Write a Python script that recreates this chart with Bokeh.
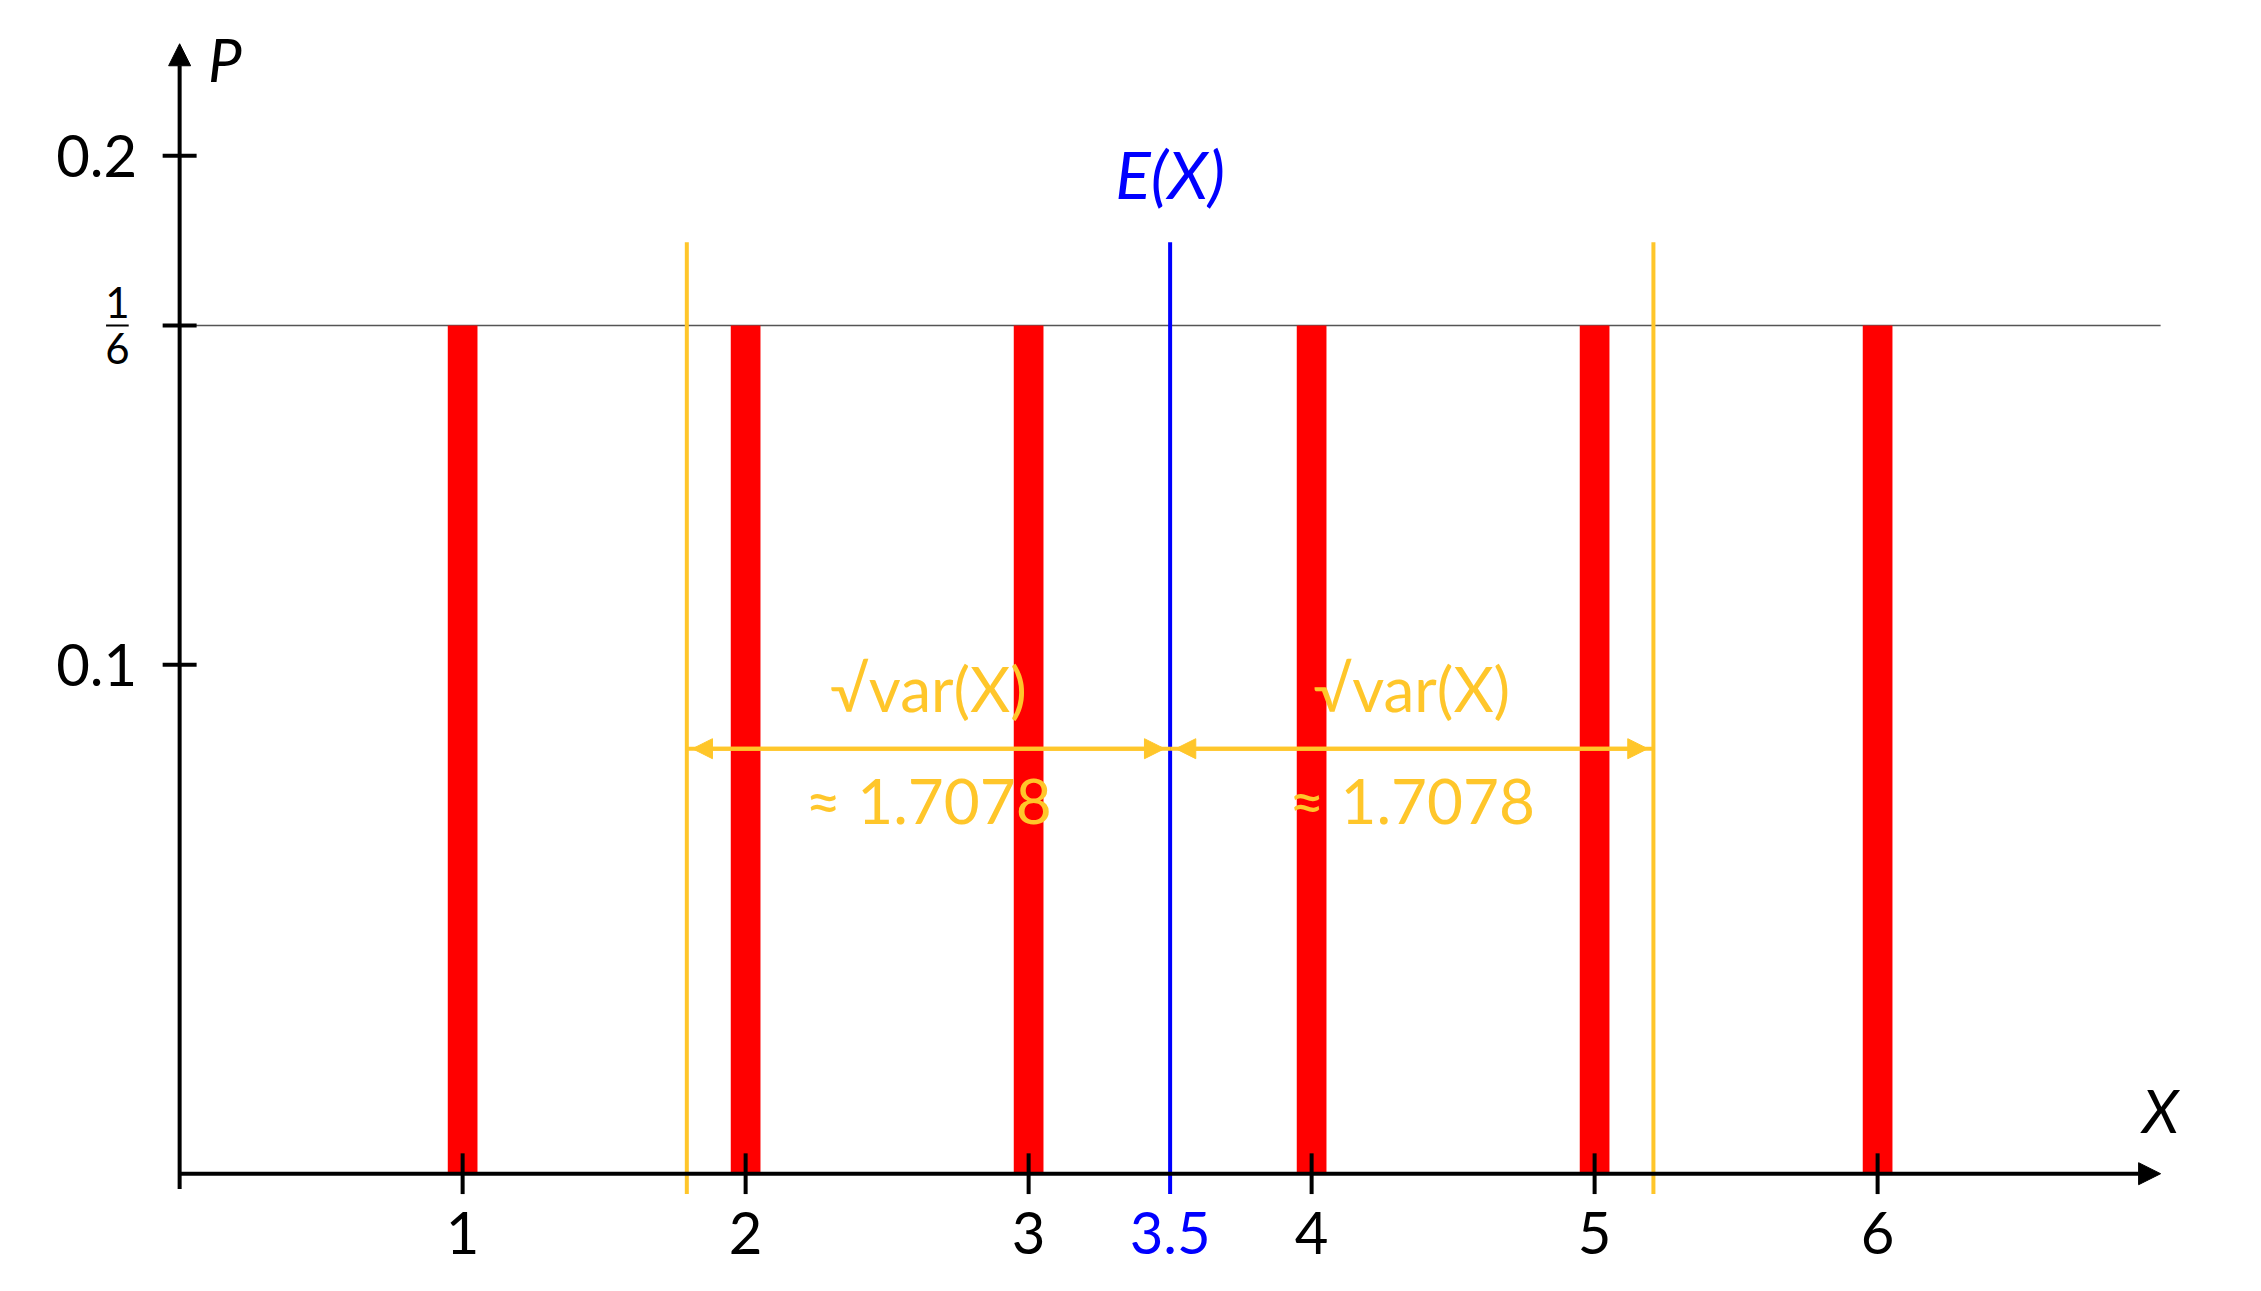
from bokeh.plotting import figure
from bokeh.models import Arrow, VeeHead, NormalHead
from bokeh.core.properties import value
from bokeh.embed import file_html
from bokeh.resources import INLINE

faces = [1, 2, 3, 4, 5, 6]
probs = [1/6] * 6
mean = 3.5
sd = 1.7078
y_ticks = [0.1, 0.2]
y_labels = ["0.1", "0.2"]

FONT = value("Lato")
YEL = "#ffc62a"

p = figure(width=2245, height=1275, x_range=(-0.633, 7.300), y_range=(-0.0200, 0.2305),
           output_backend="svg", toolbar_location=None, min_border=0)
p.axis.visible = False
p.grid.visible = False
p.outline_line_color = None

# reference line at 1/6
p.segment(x0=[0], y0=[1/6], x1=[7.0], y1=[1/6], line_color="#555555", line_width=1.5)

# bars
p.vbar(x=faces, top=probs, bottom=0, width=0.105, fill_color="red", line_color=None)

# axes
p.add_layout(Arrow(end=NormalHead(size=22, fill_color="black", line_color="black"),
                   x_start=-0.005, y_start=0, x_end=7.0, y_end=0, line_width=4))
p.add_layout(Arrow(end=NormalHead(size=22, fill_color="black", line_color="black"),
                   x_start=0, y_start=-0.003, x_end=0, y_end=0.222, line_width=4))
p.text(x=[7.0], y=[0.0055], text=["X"], text_font=FONT, text_font_style="italic",
       text_font_size="60px", text_align="center", text_baseline="bottom")
p.text(x=[0.1], y=[0.219], text=["P"], text_font=FONT, text_font_style="italic",
       text_font_size="60px", text_align="left", text_baseline="middle")

# x ticks
p.segment(x0=faces, y0=[-0.004] * 6, x1=faces, y1=[0.004] * 6, line_color="black", line_width=4)
p.text(x=faces, y=[-0.0075] * 6, text=[str(f) for f in faces], text_font=FONT,
       text_font_size="58px", text_align="center", text_baseline="top")
p.text(x=[mean], y=[-0.0075], text=["3.5"], text_font=FONT, text_color="blue",
       text_font_size="58px", text_align="center", text_baseline="top")

# y ticks
yt = y_ticks + [1/6]
p.segment(x0=[-0.06] * 3, y0=yt, x1=[0.06] * 3, y1=yt, line_color="black", line_width=4)
p.text(x=[-0.15] * 2, y=y_ticks, text=y_labels, text_font=FONT,
       text_font_size="58px", text_align="right", text_baseline="middle")
p.text(x=[-0.22], y=[1/6 + 0.0015], text=["1"], text_font=FONT, text_font_size="42px",
       text_align="center", text_baseline="bottom")
p.text(x=[-0.22], y=[1/6 - 0.0015], text=["6"], text_font=FONT, text_font_size="42px",
       text_align="center", text_baseline="top")
p.segment(x0=[-0.26], y0=[1/6], x1=[-0.18], y1=[1/6], line_color="black", line_width=2)

# mean and sd lines
p.segment(x0=[mean], y0=[-0.004], x1=[mean], y1=[0.183], line_color="blue", line_width=4)
p.segment(x0=[mean - sd, mean + sd], y0=[-0.004] * 2, x1=[mean - sd, mean + sd],
          y1=[0.183] * 2, line_color=YEL, line_width=4)
p.text(x=[mean], y=[0.1965], text=["E(X)"], text_font=FONT, text_font_style="italic",
       text_color="blue", text_font_size="66px", text_align="center", text_baseline="middle")

for a, b in [(mean, mean - sd), (mean - sd, mean), (mean, mean + sd), (mean + sd, mean)]:
    p.add_layout(Arrow(end=NormalHead(size=20, fill_color=YEL, line_color=YEL),
                       x_start=a, y_start=0.0835, x_end=b + (0.02 if b < a else -0.02),
                       y_end=0.0835, line_color=YEL, line_width=4))
for cx in [mean - sd / 2, mean + sd / 2]:
    p.text(x=[cx], y=[0.0955], text=["√var(X)"], text_font=FONT, text_color=YEL,
           text_font_size="62px", text_align="center", text_baseline="middle")
    p.text(x=[cx], y=[0.0735], text=["≈ 1.7078"], text_font=FONT, text_color=YEL,
           text_font_size="62px", text_align="center", text_baseline="middle")

open("out.html", "w").write(file_html(p, INLINE))
